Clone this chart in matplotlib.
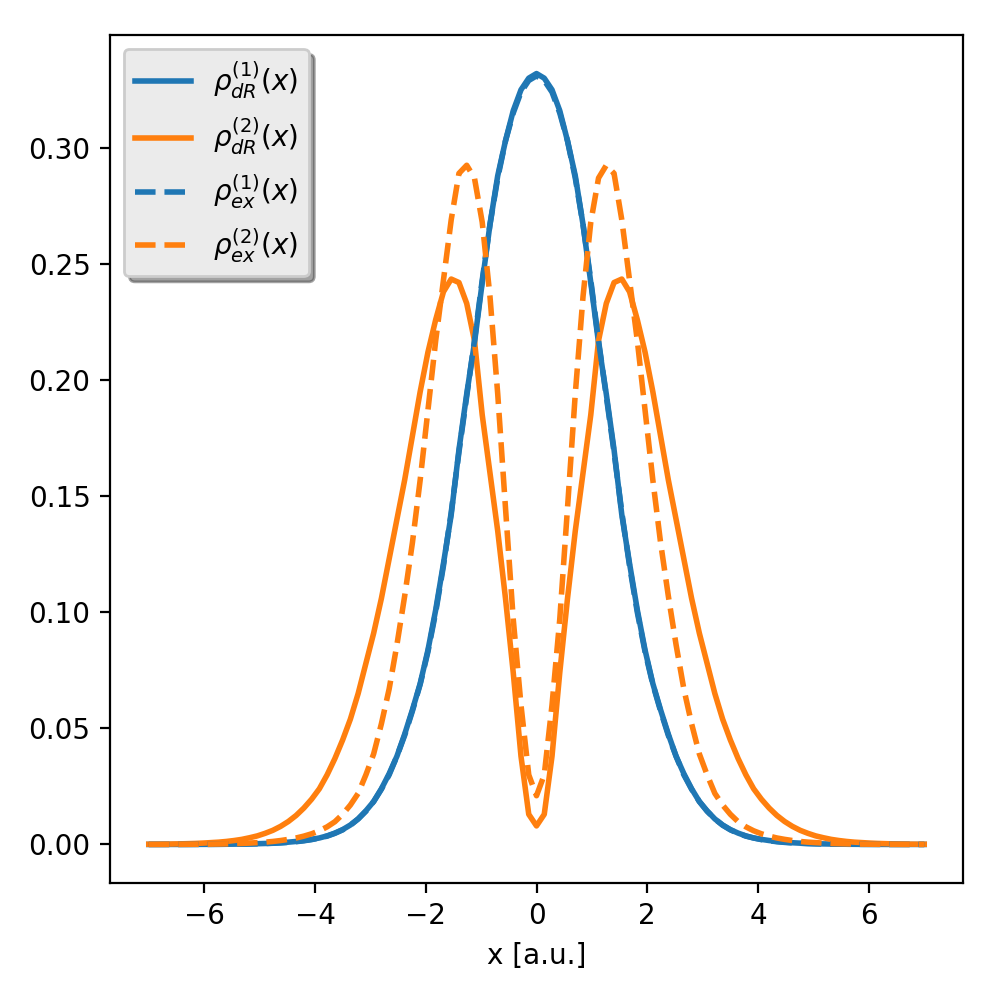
import numpy as np
import matplotlib
matplotlib.use("Agg")
import matplotlib.pyplot as plt

x = np.linspace(-7, 7, 101)

rho_dR1 = [
    0.00001, 0.00001, 0.00001, 0.00002, 0.00002, 0.00003, 0.00004, 0.00005, 0.00006, 0.00008,
    0.00011, 0.00014, 0.00019, 0.00025, 0.00033, 0.00043, 0.00057, 0.00075, 0.0010, 0.0013,
    0.0017, 0.0022, 0.0028, 0.0037, 0.0049, 0.0064, 0.0084, 0.011, 0.0145, 0.0185,
    0.024, 0.0305, 0.038, 0.0475, 0.058, 0.0693, 0.0837, 0.101, 0.121, 0.142,
    0.170, 0.194, 0.216, 0.242, 0.267, 0.288, 0.303, 0.316, 0.325, 0.330,
    0.332,
    0.330, 0.325, 0.316, 0.303, 0.288, 0.267, 0.242, 0.216, 0.194, 0.170,
    0.142, 0.121, 0.101, 0.0837, 0.0693, 0.058, 0.0475, 0.038, 0.0305, 0.024,
    0.0185, 0.0145, 0.011, 0.0084, 0.0064, 0.0049, 0.0037, 0.0028, 0.0022, 0.0017,
    0.0013, 0.0010, 0.00075, 0.00057, 0.00043, 0.00033, 0.00025, 0.00019, 0.00014, 0.00011,
    0.00008, 0.00006, 0.00005, 0.00004, 0.00003, 0.00002, 0.00002, 0.00001, 0.00001, 0.00001,
]

rho_dR2 = [
    0.0001, 0.00012, 0.00015, 0.0002, 0.00027, 0.00035, 0.00045, 0.0006, 0.0008, 0.0010,
    0.0013, 0.0017, 0.0022, 0.0029, 0.0037, 0.0048, 0.0061, 0.0078, 0.0099, 0.0125,
    0.0157, 0.0195, 0.024, 0.030, 0.037, 0.045, 0.054, 0.065, 0.078, 0.091,
    0.106, 0.123, 0.140, 0.157, 0.176, 0.195, 0.212, 0.226, 0.238, 0.2435,
    0.242, 0.233, 0.217, 0.185, 0.160, 0.135, 0.106, 0.074, 0.038, 0.013,
    0.008,
    0.013, 0.038, 0.074, 0.106, 0.135, 0.160, 0.185, 0.217, 0.233, 0.242,
    0.2435, 0.238, 0.226, 0.212, 0.195, 0.176, 0.157, 0.140, 0.123, 0.106,
    0.091, 0.078, 0.065, 0.054, 0.045, 0.037, 0.030, 0.024, 0.0195, 0.0157,
    0.0125, 0.0099, 0.0078, 0.0061, 0.0048, 0.0037, 0.0029, 0.0022, 0.0017, 0.0013,
    0.0010, 0.0008, 0.0006, 0.00045, 0.00035, 0.00027, 0.0002, 0.00015, 0.00012, 0.0001,
]

rho_ex1 = [
    0.00001, 0.00001, 0.00001, 0.00001, 0.00002, 0.00002, 0.00003, 0.00004, 0.00005, 0.00007,
    0.0001, 0.00013, 0.00017, 0.00023, 0.0003, 0.0004, 0.00053, 0.0007, 0.0009, 0.0012,
    0.0016, 0.0021, 0.0028, 0.0036, 0.0048, 0.0063, 0.0083, 0.0110, 0.0143, 0.0185,
    0.0238, 0.0300, 0.0380, 0.0470, 0.0575, 0.0690, 0.0830, 0.100, 0.120, 0.143,
    0.169, 0.193, 0.217, 0.243, 0.267, 0.287, 0.303, 0.315, 0.324, 0.329,
    0.331,
    0.329, 0.324, 0.315, 0.303, 0.287, 0.267, 0.243, 0.217, 0.193, 0.169,
    0.143, 0.120, 0.100, 0.0830, 0.0690, 0.0575, 0.0470, 0.0380, 0.0300, 0.0238,
    0.0185, 0.0143, 0.0110, 0.0083, 0.0063, 0.0048, 0.0036, 0.0028, 0.0021, 0.0016,
    0.0012, 0.0009, 0.0007, 0.00053, 0.0004, 0.0003, 0.00023, 0.00017, 0.00013, 0.0001,
    0.00007, 0.00005, 0.00004, 0.00003, 0.00002, 0.00002, 0.00001, 0.00001, 0.00001, 0.00001,
]

rho_ex2 = [
    0.00002, 0.00002, 0.00003, 0.00004, 0.00005, 0.00007, 0.00009, 0.00012, 0.00015, 0.0002,
    0.00027, 0.00035, 0.00045, 0.0006, 0.0008, 0.0010, 0.0013, 0.0017, 0.0022, 0.0028,
    0.0036, 0.0046, 0.0059, 0.0076, 0.0098, 0.013, 0.017, 0.022, 0.030, 0.039,
    0.052, 0.067, 0.086, 0.107, 0.130, 0.157, 0.187, 0.217, 0.243, 0.269,
    0.289, 0.2925, 0.287, 0.268, 0.236, 0.194, 0.145, 0.097, 0.060, 0.030,
    0.021,
    0.030, 0.060, 0.097, 0.145, 0.194, 0.236, 0.268, 0.287, 0.2925, 0.289,
    0.269, 0.243, 0.217, 0.187, 0.157, 0.130, 0.107, 0.086, 0.067, 0.052,
    0.039, 0.030, 0.022, 0.017, 0.013, 0.0098, 0.0076, 0.0059, 0.0046, 0.0036,
    0.0028, 0.0022, 0.0017, 0.0013, 0.0010, 0.0008, 0.0006, 0.00045, 0.00035, 0.00027,
    0.0002, 0.00015, 0.00012, 0.00009, 0.00007, 0.00005, 0.00004, 0.00003, 0.00002, 0.00002,
]

labels = [r'$\rho^{(1)}_{dR}(x)$', r'$\rho^{(2)}_{dR}(x)$',
          r'$\rho^{(1)}_{ex}(x)$', r'$\rho^{(2)}_{ex}(x)$']

fig = plt.figure(figsize=(5, 5), dpi=200)
ax = fig.add_axes([0.11, 0.117, 0.853, 0.848])

ax.plot(x, rho_dR1, color='C0', lw=2, label=labels[0])
ax.plot(x, rho_dR2, color='C1', lw=2, label=labels[1])
ax.plot(x, rho_ex1, color='C0', lw=2, ls='--', label=labels[2])
ax.plot(x, rho_ex2, color='C1', lw=2, ls='--', label=labels[3])

ax.set_xlabel('x [a.u.]')
leg = ax.legend(loc='upper left', shadow=True, labelspacing=0.55,
                facecolor='#ebebeb', framealpha=1.0)

fig.savefig('out.png', dpi=200)
